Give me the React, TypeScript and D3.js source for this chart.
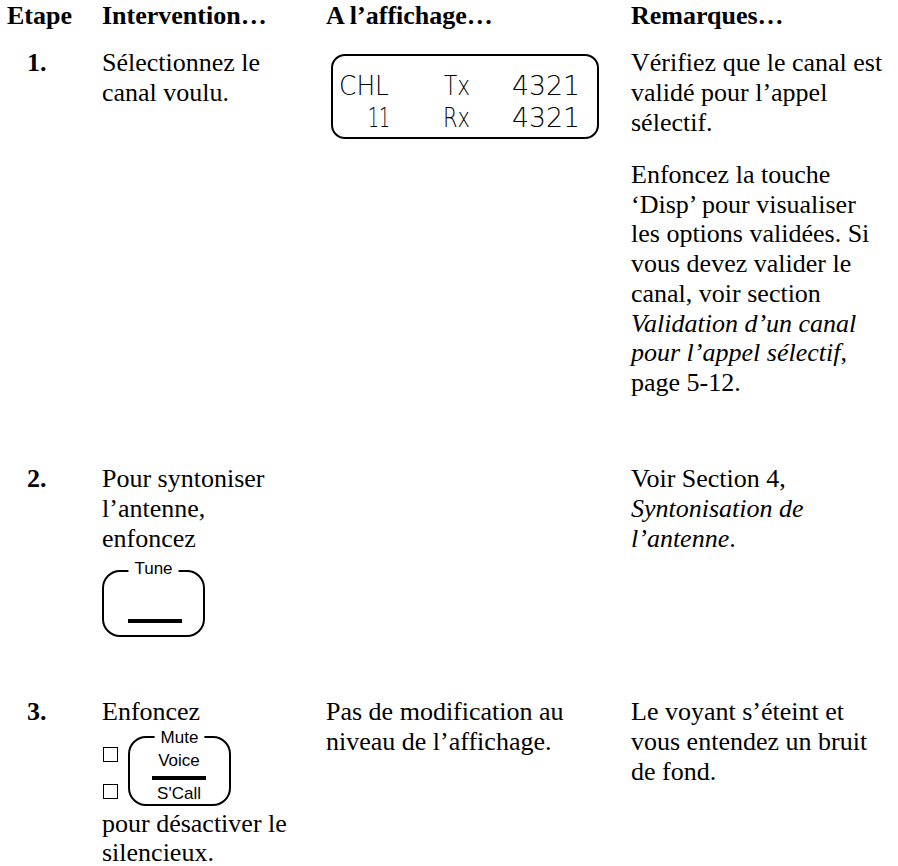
import React, { useEffect, useRef } from 'react';
import * as d3 from 'd3';

// --- contenu du tableau ---
const headers = ['Etape', 'Intervention…', 'A l’affichage…', 'Remarques…'];
const steps = ['1.', '2.', '3.'];

const interventionBefore = [
  ['Sélectionnez le', 'canal voulu.'],
  ['Pour syntoniser', 'l’antenne,', 'enfoncez'],
  ['Enfoncez'],
];
const interventionAfter = [[], [], ['pour désactiver le', 'silencieux.']];

const lcdRows = [
  ['CHL', 'Tx', '4321'],
  ['11', 'Rx', '4321'],
];
const displayNotes = [[], [], ['Pas de modification au', 'niveau de l’affichage.']];

// chaque ligne = liste de segments [texte, italique]
type Seg = [string, boolean];
const remarksRow1a: Seg[][] = [
  [['Vérifiez que le canal est', false]],
  [['validé pour l’appel', false]],
  [['sélectif.', false]],
];
const remarksRow1b: Seg[][] = [
  [['Enfoncez la touche', false]],
  [['‘Disp’ pour visualiser', false]],
  [['les options validées. Si', false]],
  [['vous devez valider le', false]],
  [['canal, voir section', false]],
  [['Validation d’un canal', true]],
  [['pour l’appel sélectif', true], [',', false]],
  [['page 5-12.', false]],
];
const remarksRow2: Seg[][] = [
  [['Voir Section 4,', false]],
  [['Syntonisation de', true]],
  [['l’antenne', true], ['.', false]],
];
const remarksRow3: Seg[][] = [
  [['Le voyant s’éteint et', false]],
  [['vous entendez un bruit', false]],
  [['de fond.', false]],
];

const tuneLabel = 'Tune';
const muteLabels = ['Mute', 'Voice', 'S\'Call'];

const SERIF = '"Liberation Serif", "Times New Roman", serif';
const SANS = '"Liberation Sans", Arial, sans-serif';

const App = () => {
  const ref = useRef<SVGSVGElement>(null);

  useEffect(() => {
    const W = 898;
    const H = 866;
    const svg = d3.select(ref.current);
    svg.selectAll('*').remove();
    svg.append('rect').attr('width', W).attr('height', H).attr('fill', '#fff');

    // colonnes
    const colX = d3.scaleOrdinal<string, number>().domain(headers).range([7, 102, 326, 631]);
    const rowY = d3.scaleOrdinal<string, number>().domain(steps).range([71, 487, 720]);
    const LH = 30;

    // en-têtes
    svg.selectAll('.hdr')
      .data(headers)
      .enter()
      .append('text')
      .attr('class', 'hdr')
      .attr('x', d => colX(d))
      .attr('y', 24)
      .attr('font-family', SERIF)
      .attr('font-size', 26)
      .attr('font-weight', 'bold')
      .text(d => d);

    // numéros d'étape
    svg.selectAll('.step')
      .data(steps)
      .enter()
      .append('text')
      .attr('x', 27)
      .attr('y', d => rowY(d))
      .attr('font-family', SERIF)
      .attr('font-size', 26)
      .attr('font-weight', 'bold')
      .text(d => d);

    const plain = (x: number, y0: number, lines: string[], lh = LH) => {
      lines.forEach((l, i) => {
        svg.append('text')
          .attr('x', x)
          .attr('y', y0 + i * lh)
          .attr('font-family', SERIF)
          .attr('font-size', 26)
          .text(l);
      });
    };

    const rich = (x: number, y0: number, lines: Seg[][], lh = LH) => {
      lines.forEach((segs, i) => {
        const t = svg.append('text')
          .attr('x', x)
          .attr('y', y0 + i * lh)
          .attr('font-family', SERIF)
          .attr('font-size', 26);
        segs.forEach(([s, it]) => {
          t.append('tspan').attr('font-style', it ? 'italic' : 'normal').text(s);
        });
      });
    };

    // colonne intervention
    steps.forEach((s, i) => plain(colX(headers[1]), rowY(s), interventionBefore[i]));
    plain(colX(headers[1]), 832, interventionAfter[2], 29);

    // colonne affichage
    plain(colX(headers[2]), rowY(steps[2]), displayNotes[2]);

    // colonne remarques
    const rx = colX(headers[3]);
    rich(rx, rowY(steps[0]), remarksRow1a);
    rich(rx, 183, remarksRow1b, 29.7);
    rich(rx, rowY(steps[1]), remarksRow2);
    rich(rx, rowY(steps[2]), remarksRow3);

    // écran LCD
    svg.append('rect')
      .attr('x', 332).attr('y', 55)
      .attr('width', 266).attr('height', 83)
      .attr('rx', 13)
      .attr('fill', 'none').attr('stroke', '#000').attr('stroke-width', 2);

    const lcdX = [339, 444, 512];
    const lcdW = [[50, 26, 68], [22, 27, 68]];
    const lcdXOff = [[0, 0, 0], [29, -1, 0]];
    lcdRows.forEach((row, r) => {
      row.forEach((tok, c) => {
        svg.append('text')
          .attr('x', lcdX[c] + lcdXOff[r][c])
          .attr('y', r === 0 ? 95 : 127)
          .attr('font-family', '"DejaVu Sans", sans-serif')
          .attr('font-size', 27)
          .attr('font-weight', 200)
          .attr('textLength', lcdW[r][c])
          .attr('lengthAdjust', 'spacingAndGlyphs')
          .text(tok);
      });
    });

    // touches
    const keyPath = (x0: number, y0: number, x1: number, y1: number, r: number, gl: number, gr: number) =>
      `M${gl},${y0} H${x0 + r} A${r},${r} 0 0 0 ${x0},${y0 + r} V${y1 - r} A${r},${r} 0 0 0 ${x0 + r},${y1}` +
      ` H${x1 - r} A${r},${r} 0 0 0 ${x1},${y1 - r} V${y0 + r} A${r},${r} 0 0 0 ${x1 - r},${y0} H${gr}`;

    const drawKey = (x0: number, y0: number, x1: number, y1: number, label: string, ly: number) => {
      const cx = (x0 + x1) / 2;
      const lbl = svg.append('text')
        .attr('x', cx).attr('y', ly)
        .attr('text-anchor', 'middle')
        .attr('font-family', SANS)
        .attr('font-size', 17)
        .text(label);
      const w = (lbl.node() as SVGTextElement).getComputedTextLength();
      svg.append('path')
        .attr('d', keyPath(x0, y0, x1, y1, 17, cx - w / 2 - 6, cx + w / 2 + 6))
        .attr('fill', 'none').attr('stroke', '#000').attr('stroke-width', 2);
    };

    // Tune
    drawKey(103, 571, 204, 636, tuneLabel, 574);
    svg.append('line')
      .attr('x1', 128).attr('x2', 182).attr('y1', 621).attr('y2', 621)
      .attr('stroke', '#000').attr('stroke-width', 4);

    // Mute / Voice / S'Call
    drawKey(129, 737, 230, 805, muteLabels[0], 743);
    svg.append('text')
      .attr('x', 179).attr('y', 766)
      .attr('text-anchor', 'middle')
      .attr('font-family', SANS).attr('font-size', 17)
      .text(muteLabels[1]);
    svg.append('line')
      .attr('x1', 152).attr('x2', 206).attr('y1', 778).attr('y2', 778)
      .attr('stroke', '#000').attr('stroke-width', 4);
    svg.append('text')
      .attr('x', 179).attr('y', 799)
      .attr('text-anchor', 'middle')
      .attr('font-family', SANS).attr('font-size', 17)
      .text(muteLabels[2]);

    // cases à cocher
    [747, 784].forEach(y => {
      svg.append('rect')
        .attr('x', 103.5).attr('y', y + 0.5)
        .attr('width', 14).attr('height', 14)
        .attr('fill', 'none').attr('stroke', '#000').attr('stroke-width', 1);
    });
  }, []);

  return (
    <svg
      ref={ref}
      width={898}
      height={866}
      style={{ position: 'absolute', left: 0, top: 0 }}
    />
  );
};

export default App;
